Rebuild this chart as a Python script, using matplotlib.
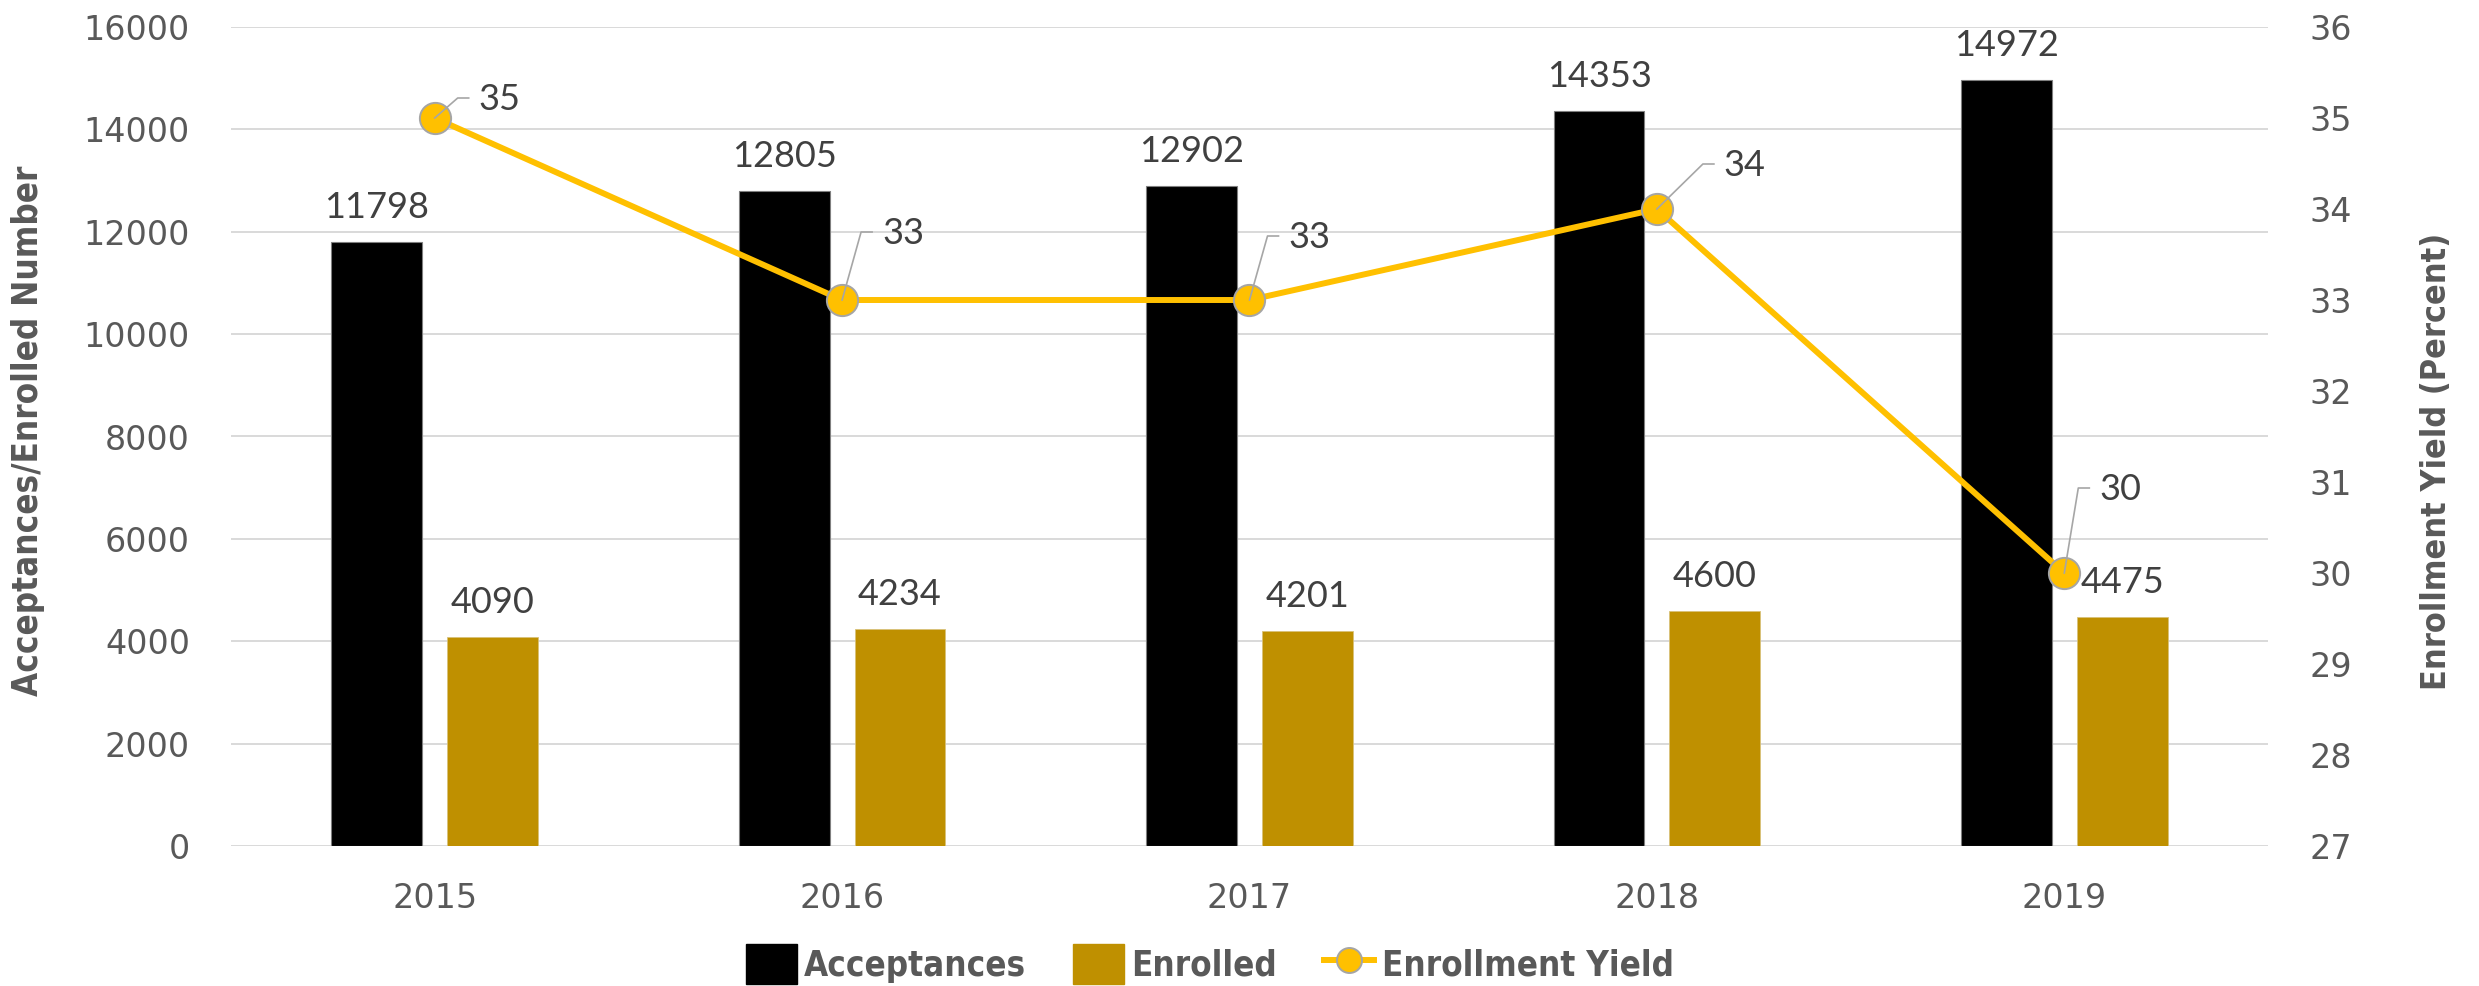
import matplotlib
matplotlib.use("Agg")
import matplotlib.pyplot as plt
import matplotlib.transforms as mtransforms
from matplotlib.lines import Line2D
from matplotlib.patches import Patch
import numpy as np

# ---- data ----
years = ["2015", "2016", "2017", "2018", "2019"]
acceptances = [11798, 12805, 12902, 14353, 14972]
enrolled = [4090, 4234, 4201, 4600, 4475]
yield_pct = [35, 33, 33, 34, 30]

left_ticks = [0, 2000, 4000, 6000, 8000, 10000, 12000, 14000, 16000]
right_ticks = [27, 28, 29, 30, 31, 32, 33, 34, 35, 36]

# ---- styling ----
BLACK = "#000000"
GOLD = "#BF9000"
YELLOW = "#FFC000"
GRID = "#D9D9D9"
TICK_C = "#595959"
LABEL_C = "#404040"
VALUE_FONT = ["Lato", "DejaVu Sans"]
TITLE_KW = dict(family="DejaVu Sans", fontstretch="condensed", fontweight="bold")

# yield label placement (text left/centre relative to marker, pixels)
yield_label_offsets = [(44, 18), (40, 66), (39, 62), (67, 43), (35, 83)]

W, H = 2479, 986
fig = plt.figure(figsize=(W / 100, H / 100), dpi=100)
ax = fig.add_axes([231 / W, 1 - 846 / H, 2037 / W, 819 / H])
ax2 = ax.twinx()

x = np.arange(len(years))
off, bw = 0.142, 0.223

ax.bar(x - off, acceptances, width=bw, color=BLACK, edgecolor="#7F7F7F",
       linewidth=0.8, zorder=3)
ax.bar(x + off, enrolled, width=bw, color=GOLD, edgecolor="#D9C27A",
       linewidth=0.6, zorder=3)

for xi, v in zip(x - off, acceptances):
    ax.annotate(str(v), (xi, v), xytext=(0, 17.3), textcoords="offset points",
                ha="center", va="baseline", fontsize=26, color=LABEL_C,
                family=VALUE_FONT, zorder=4)
for xi, v in zip(x + off, enrolled):
    ax.annotate(str(v), (xi, v), xytext=(0, 17.3), textcoords="offset points",
                ha="center", va="baseline", fontsize=26, color=LABEL_C,
                family=VALUE_FONT, zorder=4)

ax.set_xlim(-0.5, len(years) - 0.5)
ax.set_ylim(0, 16000)
ax.set_yticks(left_ticks)
ax.set_xticks(x)
ax.set_xticklabels(years)
ax.grid(axis="y", color=GRID, linewidth=1.4, zorder=0)
ax.set_axisbelow(True)

# yield line
ax2.plot(x, yield_pct, color=YELLOW, linewidth=4.3, marker="o",
         markersize=22.5, markerfacecolor=YELLOW, markeredgecolor="#A5A5A5",
         markeredgewidth=1.4, zorder=5, solid_capstyle="round")
ax2.set_ylim(27, 36)
ax2.set_yticks(right_ticks)

for xi, v, (dx, dy) in zip(x, yield_pct, yield_label_offsets):
    trans = fig.dpi_scale_trans + mtransforms.ScaledTranslation(xi, v, ax2.transData)
    ex, ey = dx - 21, dy + 2
    ax2.add_line(Line2D([0, ex / 100, (ex + 11) / 100], [0, ey / 100, ey / 100],
                        transform=trans, color="#A6A6A6", linewidth=1.2, zorder=6))
    ax2.text(dx / 100, dy / 100, str(v), transform=trans, ha="left", va="center",
             fontsize=26, color=LABEL_C, family=VALUE_FONT, zorder=7)

for a in (ax, ax2):
    for s in a.spines.values():
        s.set_visible(False)

ax.tick_params(axis="y", length=0, pad=29.5, labelsize=24, labelcolor=TICK_C)
ax.tick_params(axis="x", length=0, pad=26, labelsize=24, labelcolor=TICK_C)
ax2.tick_params(axis="y", length=0, pad=30, labelsize=24, labelcolor=TICK_C)

ax.set_ylabel("Acceptances/Enrolled Number", fontsize=25, color=TICK_C,
              va="center", ha="center", **TITLE_KW)
ax.yaxis.set_label_coords((28 - 231) / 2037, 0.507)
ax2.set_ylabel("Enrollment Yield (Percent)", fontsize=24.5, color=TICK_C,
               va="center", ha="center", **TITLE_KW)
ax2.yaxis.set_label_coords((2437 - 231) / 2037, 0.47)

handles = [
    Patch(facecolor=BLACK, edgecolor=BLACK),
    Patch(facecolor=GOLD, edgecolor=GOLD),
    Line2D([0], [0], color=YELLOW, linewidth=4.3, marker="o", markersize=18,
           markerfacecolor=YELLOW, markeredgecolor="#A5A5A5", markeredgewidth=1.4),
]
leg = fig.legend(handles, ["Acceptances", "Enrolled", "Enrollment Yield"],
                 loc="center", bbox_to_anchor=(1210 / W, 1 - 964 / H), ncol=3,
                 frameon=False, handlelength=1.45, handleheight=1.4,
                 handletextpad=0.22, columnspacing=1.35,
                 prop={"family": "DejaVu Sans", "stretch": "condensed",
                       "weight": "bold", "size": 25})
for t in leg.get_texts():
    t.set_color(TICK_C)

fig.savefig("out.png", dpi=100)
